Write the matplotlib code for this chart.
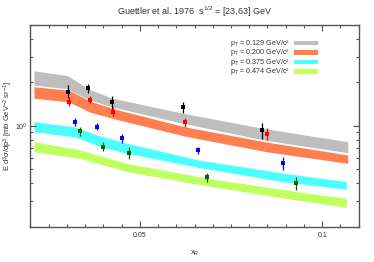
import matplotlib
matplotlib.use("Agg")
import matplotlib.pyplot as plt
from matplotlib.patches import Rectangle
from matplotlib.ticker import LogLocator, LogFormatterSciNotation, NullFormatter, MultipleLocator

plt.rcParams['font.family'] = ['Liberation Sans', 'DejaVu Sans']
plt.rcParams['mathtext.fontset'] = 'custom'
plt.rcParams['mathtext.rm'] = 'Liberation Sans'
plt.rcParams['mathtext.it'] = 'Liberation Sans:italic'
plt.rcParams['mathtext.bf'] = 'Liberation Sans:bold'

# ---- data ----
legend_labels = [r'p$_{\rm T}$ = 0.129 GeV/c²', r'p$_{\rm T}$ = 0.200 GeV/c²',
                 r'p$_{\rm T}$ = 0.375 GeV/c²', r'p$_{\rm T}$ = 0.474 GeV/c²']

# model bands
band1_x = [0.021, 0.0302, 0.0359, 0.0424, 0.0618, 0.0836, 0.107]
band1_hi = [2.40, 2.22, 1.80, 1.55, 1.22, 0.96, 0.775]
band1_lo = [1.91, 1.80, 1.52, 1.35, 1.04, 0.80, 0.65]

band2_x = [0.021, 0.0306, 0.0364, 0.0428, 0.0625, 0.0848, 0.107]
band2_hi = [1.86, 1.76, 1.48, 1.31, 0.98, 0.77, 0.627]
band2_lo = [1.55, 1.46, 1.24, 1.12, 0.845, 0.66, 0.549]

band3_x = [0.021, 0.0323, 0.0384, 0.0452, 0.0659, 0.0892, 0.1066]
band3_hi = [1.066, 0.98, 0.86, 0.77, 0.58, 0.47, 0.41]
band3_lo = [0.909, 0.835, 0.73, 0.655, 0.515, 0.41, 0.363]

band4_x = [0.021, 0.0336, 0.0399, 0.0470, 0.0685, 0.0929, 0.1066]
band4_hi = [0.775, 0.68, 0.61, 0.545, 0.433, 0.35, 0.315]
band4_lo = [0.661, 0.594, 0.535, 0.478, 0.383, 0.306, 0.272]

# measured points
d1_x = [0.0302, 0.0359, 0.0424, 0.0618, 0.0836]
d1_y = [1.72, 1.81, 1.45, 1.34, 0.934]
d1_lo = [1.55, 1.675, 1.30, 1.22, 0.805]
d1_hi = [1.91, 1.94, 1.61, 1.47, 1.05]

d2_x = [0.0306, 0.0364, 0.0428, 0.0625, 0.0848]
d2_y = [1.47, 1.51, 1.25, 1.055, 0.876]
d2_lo = [1.376, 1.43, 1.17, 0.985, 0.796]
d2_hi = [1.57, 1.61, 1.354, 1.125, 0.959]

d3_x = [0.0323, 0.0384, 0.0452, 0.0659, 0.0892]
d3_y = [1.066, 0.985, 0.818, 0.679, 0.549]
d3_lo = [1.0, 0.934, 0.763, 0.637, 0.494]
d3_hi = [1.125, 1.04, 0.876, 0.716, 0.611]

d4_x = [0.0336, 0.0399, 0.0470, 0.0685, 0.0929]
d4_y = [0.919, 0.716, 0.651, 0.439, 0.399]
d4_lo = [0.849, 0.668, 0.588, 0.408, 0.359]
d4_hi = [0.985, 0.767, 0.708, 0.468, 0.439]

band_colors = ['#bebebe', '#ff7f50', '#4cffff', '#c0ff60']
point_colors = ['#000000', '#ff0000', '#0000ff', '#006400']

bands = [(band1_x, band1_lo, band1_hi), (band2_x, band2_lo, band2_hi),
         (band3_x, band3_lo, band3_hi), (band4_x, band4_lo, band4_hi)]
points = [(d1_x, d1_y, d1_lo, d1_hi), (d2_x, d2_y, d2_lo, d2_hi),
          (d3_x, d3_y, d3_lo, d3_hi), (d4_x, d4_y, d4_lo, d4_hi)]

fig = plt.figure(figsize=(3.74, 2.62), dpi=100)
W, H = 374, 262
L, R, T, B = 30.3, 358.7, 24.7, 226.7
ax = fig.add_axes([L / W, 1 - B / H, (R - L) / W, (B - T) / H])

for (bx, lo, hi), c in zip(bands, band_colors):
    ax.fill_between(bx, lo, hi, color=c, linewidth=0)

for (px, py, plo, phi), c in zip(points, point_colors):
    yerr = [[y - l for y, l in zip(py, plo)], [h - y for y, h in zip(py, phi)]]
    ax.errorbar(px, py, yerr=yerr, fmt='s', color=c, ms=3, capsize=1.8,
                elinewidth=0.9, capthick=0.9, markeredgewidth=0)

ax.set_yscale('log')
ax.set_xlim(0.02, 0.11)
ax.set_ylim(0.2, 5)
ax.xaxis.set_major_locator(MultipleLocator(0.05))
ax.xaxis.set_minor_locator(MultipleLocator(0.005))
ax.set_xticks([0.05, 0.1])
ax.set_xticklabels(['0.05', '0.1'])
ax.yaxis.set_major_locator(LogLocator(base=10))
ax.yaxis.set_major_formatter(LogFormatterSciNotation())
ax.yaxis.set_minor_locator(LogLocator(base=10, subs=[2, 3, 4, 5, 6, 7, 8, 9]))
ax.yaxis.set_minor_formatter(NullFormatter())

spine_c = '#555555'
for s in ax.spines.values():
    s.set_color(spine_c)
    s.set_linewidth(1.0)
ax.tick_params(which='both', direction='in', top=True, right=True, color=spine_c,
               labelsize=5, labelcolor='#333333', width=0.8)
ax.tick_params(which='major', length=4.5)
ax.tick_params(which='minor', length=2.5)
ax.tick_params(axis='x', which='major', pad=4)
ax.tick_params(axis='y', which='major', pad=2)

ax.set_xlabel(r'x$_{\rm R}$', fontsize=5.5, color='#333333')
ax.xaxis.set_label_coords(0.5, -(248.3 - B) / (B - T), transform=ax.transAxes)
ax.set_ylabel(r'E d$^{3}$$\sigma$/dp$^{3}$ [mb GeV$^{-2}$ sr$^{-1}$]', fontsize=5.5,
              color='#333333')
ax.yaxis.set_label_coords(-(L - 8.5) / (R - L), 0.5, transform=ax.transAxes)
ax.yaxis.label.set_verticalalignment('center')
ax.set_title(r'Guettler et al. 1976  s$^{1/2}$ = [23,63] GeV', fontsize=6.5,
             color='#333333', pad=7)

# legend (text right-aligned, colour swatch to the right)
row_y = [43.0, 52.5, 62.0, 71.5]
def ax_x(px):
    return (px - L) / (R - L)
def ax_y(py):
    return (B - py) / (B - T)
for lab, c, ry in zip(legend_labels, band_colors, row_y):
    ax.text(ax_x(290), ax_y(ry + 1.6), lab, transform=ax.transAxes, ha='right',
            va='baseline', fontsize=5.2, color='#333333')
    ax.add_patch(Rectangle((ax_x(294), ax_y(ry + 2.3)), ax_x(318) - ax_x(294),
                           ax_y(ry - 2.3) - ax_y(ry + 2.3), transform=ax.transAxes,
                           facecolor=c, edgecolor='none', clip_on=False))

fig.savefig('out.png', dpi=100)
